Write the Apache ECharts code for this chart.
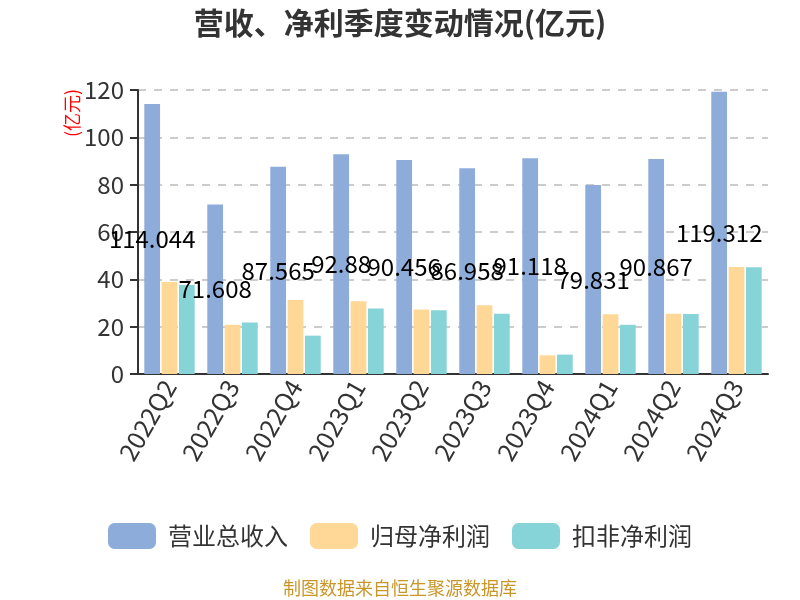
<!DOCTYPE html>
<html>
<head>
<meta charset="utf-8">
<script src="https://cdn.jsdelivr.net/npm/echarts@6/dist/echarts.min.js"></script>
<style>html,body{margin:0;padding:0;background:#fff}#c{width:800px;height:600px}</style>
</head>
<body>
<div id="c"></div>
<script>
var categories = ['2022Q2','2022Q3','2022Q4','2023Q1','2023Q2','2023Q3','2023Q4','2024Q1','2024Q2','2024Q3'];
var revenue = [114.044, 71.608, 87.565, 92.88, 90.456, 86.958, 91.118, 79.831, 90.867, 119.312];
var netProfit = [38.9, 20.8, 31.3, 30.7, 27.3, 29.0, 7.9, 25.2, 25.5, 45.2];
var deductedProfit = [37.6, 21.8, 16.2, 27.7, 26.9, 25.5, 8.2, 20.8, 25.4, 45.1];
var seriesNames = ['营业总收入', '归母净利润', '扣非净利润'];
var yTicks = [0, 20, 40, 60, 80, 100, 120];

var FONT = 'Noto Sans CJK SC';
var chart = echarts.init(document.getElementById('c'));
chart.setOption({
  textStyle: {fontFamily: FONT},
  color: ['#8eacda', '#ffd797', '#87d4d8'],
  title: {
    text: '营收、净利季度变动情况(亿元)',
    left: 'center', top: 3,
    textStyle: {fontSize: 30, fontWeight: 'bold', color: '#333', fontFamily: FONT}
  },
  grid: {left: 138, right: 32, top: 90, bottom: 226},
  legend: {
    data: seriesNames,
    bottom: 46,
    left: 'center',
    itemWidth: 48, itemHeight: 26, itemGap: 22,
    icon: 'roundRect',
    textStyle: {fontSize: 24, color: '#333', fontFamily: FONT, padding: [0, 0, 0, 7]}
  },
  xAxis: {
    type: 'category',
    data: categories,
    axisLine: {lineStyle: {color: '#333', width: 2}},
    axisTick: {lineStyle: {color: '#333', width: 2}, length: 6},
    axisLabel: {rotate: 60, fontSize: 25, color: '#333', margin: 8, fontFamily: FONT}
  },
  yAxis: {
    type: 'value',
    min: yTicks[0], max: yTicks[yTicks.length - 1], interval: 20,
    axisLine: {show: true, lineStyle: {color: '#333', width: 2}},
    axisTick: {show: true, length: 8, lineStyle: {color: '#333', width: 2}},
    axisLabel: {fontSize: 24, color: '#333', margin: 14, fontFamily: FONT},
    splitLine: {lineStyle: {type: [8, 8], color: '#ccc', width: 2}}
  },
  graphic: [
    {type: 'text', x: 72, y: 113, rotation: Math.PI / 2,
     style: {text: '(亿元)', fill: '#f00', fontSize: 18, fontFamily: FONT, align: 'center', verticalAlign: 'middle'}},
    {type: 'text', left: 'center', top: 579,
     style: {text: '制图数据来自恒生聚源数据库', fill: '#c9962a', fontSize: 18, fontFamily: FONT}}
  ],
  series: [
    {name: seriesNames[0], type: 'bar', data: revenue, barGap: '10%', barCategoryGap: '20%',
     label: {show: true, position: 'inside', color: '#000', fontSize: 24, fontFamily: FONT}},
    {name: seriesNames[1], type: 'bar', data: netProfit, barGap: '10%', barCategoryGap: '20%'},
    {name: seriesNames[2], type: 'bar', data: deductedProfit, barGap: '10%', barCategoryGap: '20%'}
  ]
});
</script>
</body>
</html>
